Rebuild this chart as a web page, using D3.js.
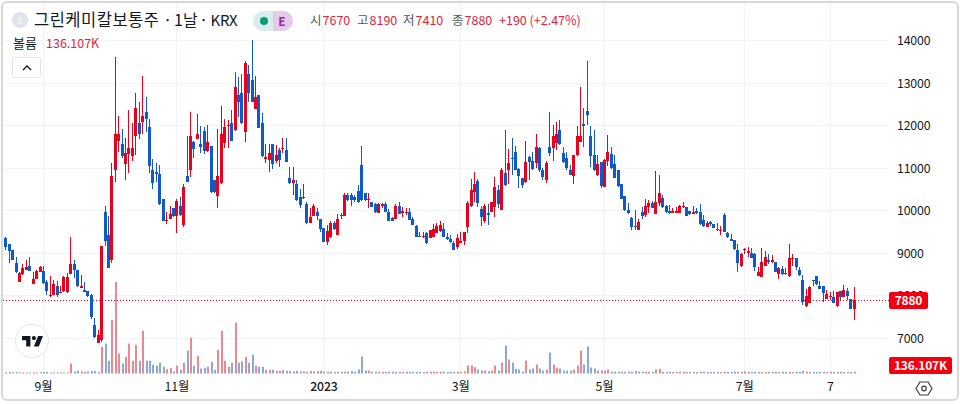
<!DOCTYPE html>
<html>
<head>
<meta charset="utf-8">
<script src="https://cdn.jsdelivr.net/npm/d3@7/dist/d3.min.js"></script>
<style>
  html, body { margin: 0; padding: 0; background: #fff; }
  svg { display: block; }
  text { font-family: "Noto Sans CJK KR", "Noto Sans", sans-serif; }
  .axis text { font-size: 12.3px; fill: #131722; letter-spacing: -0.15px; }
  .axis path, .axis line { display: none; }
</style>
</head>
<body>
<svg id="chart" width="960" height="404"></svg>
<script>
/*** Chart data ***/
const opens = [
  9350,9200,9050,8750,8310,8490,8600,8680,8270,8380,
  8550,8560,8310,7980,8010,8200,8050,8090,8070,8490,
  8730,8600,8170,8120,8100,7990,7290,6880,6940,9950,
  9410,8820,10930,11620,11550,11080,11320,11280,11730,12040,
  12080,12300,11950,10930,10890,10840,10250,9730,9800,10050,
  9860,10100,9650,10800,10930,11590,11670,11550,11850,11400,
  11510,10710,10330,10640,11580,11980,12040,11880,12710,12750,
  11840,13200,13060,12380,12710,12040,11190,11180,11550,11150,
  11410,11440,11410,10750,10640,10610,10300,10280,10140,9700,
  9870,9960,9800,9570,9250,9360,9700,9410,9890,9870,
  10350,10350,10310,10450,11060,10390,10240,10200,10130,9940,
  10100,10140,9950,9820,9790,10100,9920,9940,9960,9790,
  9630,9400,9380,9450,9330,9370,9470,9510,9550,9370,
  9310,9230,9140,9230,9280,9590,10100,10430,10680,10020,
  9730,9920,9960,10080,10470,10000,10860,10930,11220,11360,
  10960,10750,10670,11240,11150,11110,11450,10940,10710,11480,
  11470,11570,11880,11350,11220,10940,10810,11290,11610,12020,
  12330,11740,11290,10820,11140,10530,11160,11320,11080,10930,
  10610,10330,10000,9820,9620,9530,9960,9880,10080,10160,
  9910,10160,10290,10090,9980,9940,9940,9940,10060,10060,
  9970,9910,9980,9950,9760,9610,9710,9660,9550,9510,
  9880,9470,9320,9290,9060,8680,9060,8990,8990,8970,
  8450,8430,8680,8820,8780,8780,8500,8610,8510,8450,
  8840,8860,8590,8350,7740,7820,8350,8440,8210,8210,
  7910,7950,7950,7730,8090,7960,8090,7900,7670
];
const highs = [
  9370,9200,9050,8890,8530,8730,8820,8890,8550,8600,
  8680,8680,8350,8450,8350,8340,8210,8450,8510,9370,
  8820,8600,8470,8310,8100,8020,7470,7180,9150,10090,
  9860,11100,13590,12210,11900,11690,12350,12040,12750,12530,
  13150,12650,12130,11200,11110,11060,10250,9960,10100,10050,
  10270,10310,10610,11740,12310,11620,12260,11980,11950,12000,
  11510,10710,11900,12450,12130,12120,12350,13240,13140,13200,
  13510,13410,14000,13150,12710,12290,11550,11550,11550,11530,
  11450,11690,11690,11020,11020,10710,10490,10610,10200,10040,
  10140,10040,9800,9570,9650,9730,9730,9910,9940,10390,
  10390,10390,10350,10600,11510,10390,10390,10200,10160,10160,
  10160,10200,10020,9840,10130,10200,10080,10040,10040,9840,
  9650,9490,9490,9490,9530,9670,9700,9730,9700,9450,
  9410,9260,9440,9490,9490,10220,10720,10890,10740,10100,
  10140,10140,10200,10780,10590,11000,11880,11440,11690,11510,
  10980,10750,11620,11260,11370,11790,11490,10980,11150,12310,
  12000,12080,12120,11480,11370,11060,11290,11980,12900,12390,
  13510,11980,11880,11290,11140,11190,11770,11490,11290,10940,
  10610,10330,10160,9840,10000,9800,10080,10270,10240,10220,
  10920,10820,10350,10120,10120,10040,10080,10120,10180,10080,
  9980,10090,10040,10140,9880,9740,9740,9660,9690,9620,
  9940,9490,9430,9290,9200,8980,9110,9120,9110,8980,
  8670,9100,9040,8960,8940,8780,8650,8680,8630,9200,
  8960,8860,8670,8460,8130,8200,8350,8450,8340,8210,
  8120,8080,8090,8080,8090,8230,8160,7900,8190
];
const lows = [
  9070,8760,8820,8510,8310,8470,8590,8570,8260,8370,
  8530,8270,8000,7960,8000,7960,8040,8070,8040,8490,
  8390,8180,8160,8070,7960,7430,7000,6880,6900,9160,
  8640,8760,10670,11370,11220,10710,10860,11160,11290,11660,
  11800,11840,10860,10500,10670,10120,9730,9670,9780,9840,
  9470,9870,9610,10670,10770,11220,11660,11350,11320,11370,
  10410,10400,10050,10610,11450,11450,11630,11870,12200,12020,
  11610,12550,12530,12380,11920,11240,11110,10900,10960,11110,
  11020,11330,11130,10610,10350,10220,10050,10250,9670,9700,
  9860,9760,9490,9250,9180,9330,9530,9410,9800,9860,
  10220,10100,10200,10160,10220,10220,10050,10060,9940,9920,
  10040,9950,9730,9730,9780,9900,9840,9880,9760,9640,
  9370,9360,9330,9200,9330,9360,9450,9490,9360,9290,
  9230,9060,9080,9220,9180,9450,10080,10200,10080,9620,
  9700,9650,9950,9840,10040,10000,10570,10610,10820,10930,
  10510,10510,10630,10710,10940,11000,10900,10710,10630,11260,
  11150,11410,11540,11110,10940,10820,10610,11260,11590,11480,
  12000,11020,10910,10800,10510,10530,11040,10960,10750,10550,
  10250,9980,9910,9530,9530,9530,9790,9840,9920,10050,
  9910,10100,10040,9920,9900,9920,9920,9920,10040,9860,
  9880,9910,9910,9650,9610,9590,9620,9570,9510,9410,
  9480,9350,9270,9070,8530,8670,8970,8900,8860,8560,
  8450,8430,8680,8740,8760,8530,8380,8470,8470,8430,
  8680,8590,8450,7760,7710,7800,8200,8240,8130,7840,
  7900,7880,7800,7710,7880,7950,7880,7660,7410
];
const closes = [
  9140,9040,8820,8530,8510,8630,8670,8570,8380,8560,
  8650,8290,8100,8000,8270,7990,8080,8420,8420,8730,
  8590,8200,8200,8080,7980,7490,7020,7060,9150,9270,
  8640,10800,11800,11800,11280,11330,11450,11450,12390,11780,
  12210,12130,11040,10640,10840,10130,9730,9760,9900,9860,
  10220,9880,10530,10670,11740,11440,11800,11490,11400,11590,
  10420,10420,10800,11800,11950,12000,11630,12900,12530,12040,
  13470,12750,12530,12650,11920,11270,11240,11330,11080,11290,
  11180,11460,11140,10630,10700,10240,10120,10310,9690,9840,
  10090,9870,9550,9250,9510,9700,9550,9780,9870,10350,
  10240,10240,10240,10200,10240,10240,10260,10080,9950,10140,
  10130,9950,9740,9740,10100,9910,9970,9960,9760,9650,
  9370,9370,9400,9220,9530,9550,9620,9650,9370,9320,
  9250,9060,9330,9270,9490,10170,10460,10610,10170,9840,
  10100,9890,10180,10540,10140,10940,10590,11100,11190,10940,
  10800,10590,11130,11130,10960,11490,10930,10780,11100,11330,
  11740,11790,11550,11130,11000,10830,11290,11740,11740,11980,
  12240,11270,10930,11080,10570,11180,11360,10980,10760,10570,
  10270,10000,9920,9610,9590,9710,9870,10090,10160,10050,
  10200,10390,10060,9960,9920,9980,9980,10100,10090,9870,
  9900,9960,9920,9670,9620,9700,9660,9580,9530,9530,
  9490,9360,9280,9090,8760,8970,9090,9040,8880,8670,
  8540,8780,8890,8780,8820,8540,8640,8490,8490,8870,
  8870,8670,8460,7840,7980,8190,8330,8260,8150,8050,
  8020,7980,7820,8080,7950,8120,7980,7680,7880
];
// volume in thousands of shares
const volumes = [
  90,100,90,100,70,70,70,70,70,70,
  80,110,110,70,70,70,70,70,70,700,
  150,200,150,120,150,170,170,100,1870,2100,
  890,3760,6420,1400,700,1170,2100,890,2010,890,
  2990,890,890,610,540,750,470,300,370,140,
  540,260,750,1590,2500,540,1240,350,400,470,
  820,260,1660,2990,890,470,750,3550,750,840,
  1170,750,1310,540,470,470,260,260,260,190,
  190,260,190,190,140,190,140,150,130,170,
  140,170,190,130,120,130,110,120,110,130,
  130,170,120,280,1190,210,210,130,120,110,
  120,110,120,130,120,110,120,130,110,120,
  110,120,110,120,130,120,110,120,130,120,
  120,110,130,120,150,560,560,440,280,210,
  210,160,210,560,210,770,1960,980,770,330,
  280,140,910,280,350,630,350,210,280,1470,
  630,420,350,210,210,210,280,560,1610,630,
  1890,420,350,210,210,210,280,130,130,130,
  120,120,130,130,170,130,120,110,120,110,
  280,330,120,110,110,100,110,130,120,100,
  110,120,100,110,130,110,100,120,110,100,
  120,110,100,130,120,110,150,110,100,120,
  110,120,100,110,110,120,100,130,110,110,
  100,120,110,180,130,120,110,100,120,110,
  110,120,100,110,120,110,100,110,136.107
];
const priceTicks = [14000, 13000, 12000, 11000, 10000, 9000, 8000, 7000];
const dateTickIndex = [11, 50, 93, 133, 175, 216, 241];
const dateTickLabel = ["9월", "11월", "2023", "3월", "5월", "7월", "7"];
const lastClose = 7880;
const lastVolume = "136.107K";

const red = "#e8001c", blue = "#1059c8";
const redVol = "#e98a93", blueVol = "#8aa9d8";

/*** Scales ***/
const svg = d3.select("#chart");
const x = d3.scaleLinear().domain([0, closes.length - 1]).range([5.3, 853.7]);
const y = d3.scaleLinear().domain([7000, 14000]).range([337.5, 40]);
const yVol = d3.scaleLinear().domain([0, 6510]).range([373.5, 280.5]);

/*** Frame and grid ***/
svg.append("rect")
    .attr("x", 2).attr("y", 2).attr("width", 956).attr("height", 398).attr("rx", 5)
    .attr("fill", "#fff").attr("stroke", "#d8d8d8").attr("stroke-width", 2);

svg.append("g").selectAll("line")
    .data(priceTicks).enter().append("line")
    .attr("x1", 3).attr("x2", 888)
    .attr("y1", d => Math.round(y(d)) + 0.5).attr("y2", d => Math.round(y(d)) + 0.5)
    .attr("stroke", "#f0f3fa");
svg.append("g").selectAll("line")
    .data(dateTickIndex).enter().append("line")
    .attr("y1", 3).attr("y2", 375)
    .attr("x1", d => Math.round(x(d)) + 0.5).attr("x2", d => Math.round(x(d)) + 0.5)
    .attr("stroke", "#f0f3fa");

/*** Volume bars ***/
svg.append("g").selectAll("rect")
    .data(volumes).enter().append("rect")
    .attr("x", (d, i) => Math.round(x(i)))
    .attr("width", 2)
    .attr("y", d => yVol(d))
    .attr("height", d => yVol(0) - yVol(d))
    .attr("fill", (d, i) => closes[i] >= opens[i] ? redVol : blueVol);

/*** Last price line ***/
svg.append("line")
    .attr("x1", 3).attr("x2", 889)
    .attr("y1", Math.round(y(lastClose)) + 0.5).attr("y2", Math.round(y(lastClose)) + 0.5)
    .attr("stroke", red).attr("stroke-dasharray", "1 2");

/*** Candles ***/
const candles = svg.append("g").selectAll("g")
    .data(closes).enter().append("g")
    .attr("fill", (d, i) => closes[i] >= opens[i] ? red : blue);
candles.append("rect")
    .attr("x", (d, i) => Math.round(x(i)))
    .attr("width", 1)
    .attr("y", (d, i) => Math.round(y(highs[i])))
    .attr("height", (d, i) => Math.max(1, Math.round(y(lows[i])) - Math.round(y(highs[i]))));
candles.append("rect")
    .attr("x", (d, i) => Math.round(x(i)) - 1)
    .attr("width", 3)
    .attr("y", (d, i) => Math.round(y(Math.max(opens[i], closes[i]))))
    .attr("height", (d, i) => Math.max(1, Math.round(y(Math.min(opens[i], closes[i]))) - Math.round(y(Math.max(opens[i], closes[i])))));

/*** Axes ***/
svg.append("g").attr("class", "axis")
    .attr("transform", "translate(897,0.7)")
    .call(d3.axisRight(y).tickValues(priceTicks).tickSize(0).tickPadding(0).tickFormat(d3.format("d")));
svg.append("g").attr("class", "axis")
    .attr("transform", "translate(0,382)")
    .call(d3.axisBottom(x).tickValues(dateTickIndex).tickSize(0).tickPadding(0)
        .tickFormat((d, i) => dateTickLabel[i]));
svg.selectAll(".axis text").filter(function() { return this.textContent == "2023"; })
    .style("font-weight", 500);

/*** Price tags ***/
function tag(top, w, h, label) {
  svg.append("rect").attr("x", 889).attr("y", top).attr("width", w).attr("height", h)
      .attr("rx", 2).attr("fill", "#f2000f");
  svg.append("text").attr("x", 889 + w / 2).attr("y", top + h / 2 + 4.5)
      .attr("text-anchor", "middle").attr("fill", "#fff")
      .attr("font-size", 12).attr("font-weight", 600).attr("letter-spacing", -0.2)
      .text(label);
}
tag(292, 39, 17, d3.format("d")(lastClose));
tag(357, 63, 17, lastVolume);

/*** Header ***/
svg.append("circle").attr("cx", 20).attr("cy", 20).attr("r", 8).attr("fill", "#e0e3eb");
svg.append("text").attr("x", 20).attr("y", 23.5).attr("text-anchor", "middle")
    .attr("font-size", 9).attr("fill", "#fff").text("0");
const titleParts = [["그린케미칼보통주", 34, 16.5, 0.5], ["·", 163, 16.5, 0], ["1날", 174, 16, 0], ["·", 199, 16.5, 0], ["KRX", 210.5, 15, -0.3]];
titleParts.forEach(function(t) {
  svg.append("text").attr("x", t[1]).attr("y", 26).attr("font-size", t[2])
      .attr("letter-spacing", t[3]).attr("fill", "#131722").text(t[0]);
});

svg.append("path").attr("d", "M263 11h10v20h-10a10 10 0 0 1 0-20z").attr("fill", "#d9eeeb");
svg.append("path").attr("d", "M273 11h10a10 10 0 0 1 0 20h-10z").attr("fill", "#e3cbe9");
svg.append("circle").attr("cx", 264).attr("cy", 21).attr("r", 4).attr("fill", "#089981");
svg.append("text").attr("x", 282).attr("y", 25.5).attr("text-anchor", "middle")
    .attr("font-size", 12).attr("font-weight", 700).attr("fill", "#9c27b0").text("E");

const ohlc = [["시", 310, "7670"], ["고", 357, "8190"], ["저", 403, "7410"], ["종", 452, "7880"]];
ohlc.forEach(function(o) {
  svg.append("text").attr("x", o[1]).attr("y", 25).attr("font-size", 12.5).attr("fill", "#50535e").text(o[0]);
  svg.append("text").attr("x", o[1] + 12.5).attr("y", 25).attr("font-size", 12.5).attr("fill", "#e0243c").text(o[2]);
});
svg.append("text").attr("x", 499).attr("y", 25).attr("font-size", 12.5).attr("fill", "#e0243c").text("+190 (+2.47%)");

svg.append("text").attr("x", 13).attr("y", 48).attr("font-size", 13).attr("fill", "#131722").text("볼륨");
svg.append("text").attr("x", 46).attr("y", 48).attr("font-size", 12.5).attr("fill", "#e0243c").text(lastVolume);

/*** Collapse button ***/
svg.append("rect").attr("x", 12.5).attr("y", 57.5).attr("width", 28).attr("height", 20).attr("rx", 2)
    .attr("fill", "#fff").attr("stroke", "#e0e3eb");
svg.append("path").attr("d", "M23 70l4-4 4 4").attr("fill", "none").attr("stroke", "#131722").attr("stroke-width", 1.3);

/*** Logo ***/
svg.append("circle").attr("cx", 32).attr("cy", 341).attr("r", 16.5).attr("fill", "#fff").attr("stroke", "#e6e6e6").attr("stroke-width", 1);
svg.append("path")
    .attr("transform", "translate(20.6,331.8) scale(0.7)")
    .attr("d", "M14 6H2v6h6v9h6V6Zm12 15h-7l6-15h7l-6 15Zm-7-9a3 3 0 1 0 0-6 3 3 0 0 0 0 6Z")
    .attr("fill", "#131722");

/*** Settings icon ***/
svg.append("path").attr("d", "M920 382h8l4 6.5-4 6.5h-8l-4-6.5z").attr("fill", "none").attr("stroke", "#3a3d46").attr("stroke-width", 1.2);
svg.append("circle").attr("cx", 924).attr("cy", 388.5).attr("r", 2.3).attr("fill", "none").attr("stroke", "#3a3d46").attr("stroke-width", 1.2);
</script>
</body>
</html>
